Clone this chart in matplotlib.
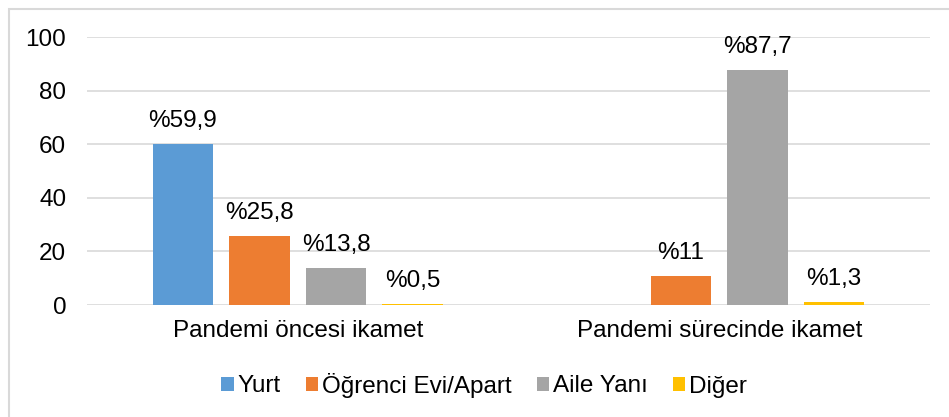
import numpy as np
import matplotlib.pyplot as plt
from matplotlib.patches import Rectangle

plt.rcParams['font.family'] = ['Liberation Sans', 'DejaVu Sans']

# categories and series
categories = ['Pandemi öncesi ikamet', 'Pandemi sürecinde ikamet']
series_names = ['Yurt', 'Öğrenci Evi/Apart', 'Aile Yanı', 'Diğer']
yurt = [59.9, 0]
ogrenci_evi = [25.8, 11]
aile_yani = [13.8, 87.7]
diger = [0.5, 1.3]
yticks = [0, 20, 40, 60, 80, 100]

colors = ['#5B9BD5', '#ED7D31', '#A5A5A5', '#FFC000']
fs = 17.5

fig = plt.figure(figsize=(9.49, 4.17), dpi=100)
ax = fig.add_axes([87 / 949, 1 - 305 / 417, 843 / 949, 268 / 417])

x = np.arange(len(categories))
width = 0.143
step = 0.1815
all_series = [yurt, ogrenci_evi, aile_yani, diger]

for i, (name, vals) in enumerate(zip(series_names, all_series)):
    pos = x + (i - 1.5) * step
    ax.bar(pos, vals, width, color=colors[i], label=name, zorder=3)
    for px, v in zip(pos, vals):
        if v == 0:
            continue
        lbl = '%' + ('%g' % v).replace('.', ',')
        ax.annotate(lbl, (px, v), xytext=(0, 17), textcoords='offset pixels',
                    ha='center', va='baseline', fontsize=fs, color='#000000')

ax.set_xlim(-0.5, 1.5)
ax.set_ylim(0, 100)
ax.set_yticks(yticks)
ax.set_xticks(x)
ax.set_xticklabels(categories)
ax.tick_params(axis='both', length=0, labelsize=fs, colors='#000000')
ax.tick_params(axis='y', pad=15)
ax.tick_params(axis='x', pad=11)
ax.grid(axis='y', color='#D9D9D9', linewidth=1.2, zorder=0)
ax.set_axisbelow(True)
for side in ['top', 'right', 'left', 'bottom']:
    ax.spines[side].set_visible(False)

fig.legend(loc='center', bbox_to_anchor=(0.51, 1 - 385 / 417), ncol=4,
           frameon=False, fontsize=fs, handlelength=0.5, handleheight=0.5,
           handletextpad=0.15, columnspacing=1.05)

# light chart-area border (only left and top edge in view)
fig.patches.append(Rectangle((8.5 / 949, -0.1), 1.2, 1 - 8.5 / 417 + 0.1,
                             transform=fig.transFigure, fill=False,
                             edgecolor='#D9D9D9', linewidth=1.5))

fig.savefig('out.png', dpi=100)
